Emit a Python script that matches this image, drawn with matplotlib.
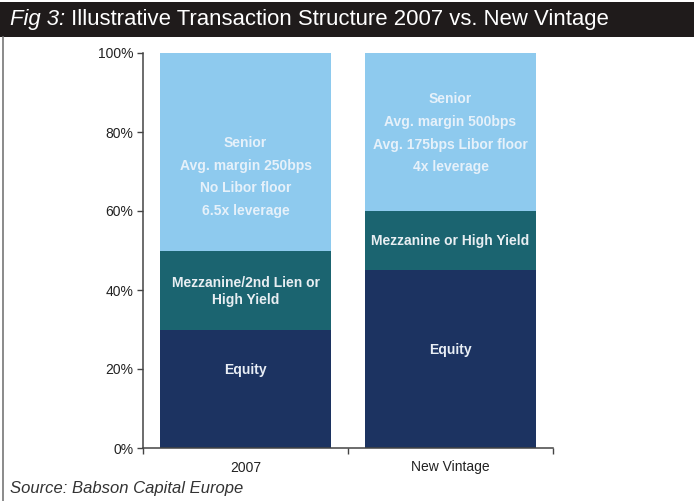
import matplotlib

matplotlib.use("Agg")

import matplotlib.pyplot as plt
from matplotlib.lines import Line2D
from matplotlib.patches import Rectangle
from matplotlib.text import Annotation

plt.rcParams["font.family"] = ["Liberation Sans", "DejaVu Sans"]

# data (percent of capital structure)
categories = ["2007", "New Vintage"]
equity = [30, 45]
mezzanine = [20, 15]
senior = [50, 40]

equity_labels = ["Equity", "Equity"]
mezz_labels = ["Mezzanine/2nd Lien or\nHigh Yield", "Mezzanine or High Yield"]
senior_labels = [
    "Senior\nAvg. margin 250bps\nNo Libor floor\n6.5x leverage",
    "Senior\nAvg. margin 500bps\nAvg. 175bps Libor floor\n4x leverage",
]
# vertical anchor of each label (data units)
equity_label_y = [19.7, 24.8]
mezz_label_y = [39.7, 52.4]
senior_label_y = [68.6, 79.7]

yticks = [0, 20, 40, 60, 80, 100]

c_equity = "#1c3361"
c_mezz = "#1b6470"
c_senior = "#8ecaee"

fig = plt.figure(figsize=(6.94, 5.01), dpi=100)
W, H = 694, 501

# title bar
fig.patches.append(Rectangle((0, 1 - 37 / H), 1, 35 / H, transform=fig.transFigure,
                             facecolor="#1f1b1b", edgecolor="none", zorder=0))
t1 = fig.text(10 / W, 1 - 20 / H, "Fig 3:", color="white", fontsize=15.9,
              style="italic", va="center", ha="left")
fig.add_artist(Annotation(" Illustrative Transaction Structure 2007 vs. New Vintage",
                          xy=(1, 0.5), xycoords=t1, va="center", ha="left",
                          color="white", fontsize=15.9))

# left border line
fig.add_artist(Line2D([2.5 / W, 2.5 / W], [0, 1 - 37 / H],
                      transform=fig.transFigure, color="#777777", lw=1.2))

ax = fig.add_axes([143 / W, 1 - 448 / H, (553 - 143) / W, (448 - 53) / H])
x = range(len(categories))
w = 0.83
ax.bar(x, equity, width=w, color=c_equity)
ax.bar(x, mezzanine, width=w, bottom=equity, color=c_mezz)
bottom2 = [e + m for e, m in zip(equity, mezzanine)]
ax.bar(x, senior, width=w, bottom=bottom2, color=c_senior)

for i in x:
    ax.text(i, equity_label_y[i], equity_labels[i], ha="center", va="center",
            color="#e8eef5", fontsize=10, fontweight="bold")
    ax.text(i, mezz_label_y[i], mezz_labels[i], ha="center", va="center",
            color="#e8eef2", fontsize=10, fontweight="bold", linespacing=1.3)
    ax.text(i, senior_label_y[i], senior_labels[i], ha="center", va="center",
            color="#e6f1fa", fontsize=10, fontweight="bold", linespacing=1.8)

ax.set_xlim(-0.5, 1.5)
ax.set_ylim(0, 100)
ax.set_yticks(yticks)
ax.set_yticklabels([f"{v}%" for v in yticks])
ax.set_xticks([-0.5, 0.5, 1.5])
ax.set_xticklabels([])
ax.set_xticks(list(x), minor=True)
ax.set_xticklabels(categories, minor=True)
ax.tick_params(axis="x", which="minor", length=0, pad=9, labelsize=10, labelcolor="#222222")
ax.tick_params(axis="x", which="major", length=4, color="#444444", width=1)
ax.tick_params(axis="y", length=4, color="#444444", width=1, labelsize=10,
               labelcolor="#222222", pad=3)

for s in ["top", "right"]:
    ax.spines[s].set_visible(False)
for s in ["left", "bottom"]:
    ax.spines[s].set_color("#444444")
    ax.spines[s].set_linewidth(1.1)

fig.text(10 / W, 1 - 488 / H, "Source: Babson Capital Europe", style="italic",
         color="#333333", fontsize=12, va="center", ha="left")

fig.savefig("out.png", dpi=100)
